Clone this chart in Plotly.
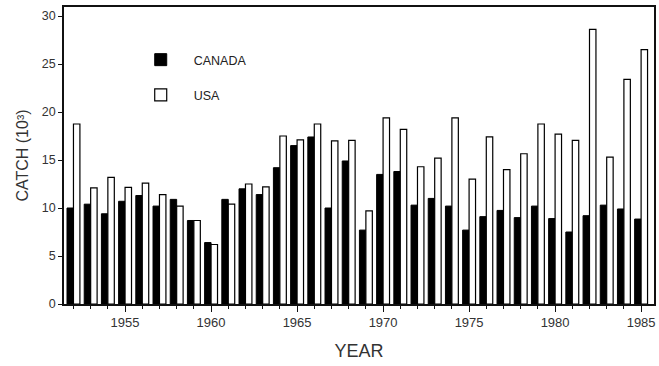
import plotly.graph_objects as go

years = list(range(1952, 1986))
canada = [10.0, 10.4, 9.4, 10.7, 11.3, 10.2, 10.9, 8.7, 6.4, 10.9,
          12.0, 11.4, 14.2, 16.5, 17.4, 10.0, 14.9, 7.7, 13.5, 13.8,
          10.3, 11.0, 10.2, 7.7, 9.1, 9.75, 9.0, 10.2, 8.9, 7.5,
          9.2, 10.3, 9.9, 8.85]
usa = [18.75, 12.1, 13.2, 12.15, 12.6, 11.4, 10.2, 8.7, 6.2, 10.4,
       12.5, 12.2, 17.5, 17.1, 18.75, 17.0, 17.05, 9.7, 19.4, 18.2,
       14.3, 15.2, 19.4, 13.0, 17.4, 14.0, 15.65, 18.75, 17.7, 17.05,
       28.6, 15.3, 23.4, 26.5]
y_ticks = [0, 5, 10, 15, 20, 25, 30]
x_ticks = [1955, 1960, 1965, 1970, 1975, 1980, 1985]

font_family = "Liberation Sans, Arial, sans-serif"
ink = "#111111"

fig = go.Figure()
fig.add_trace(go.Bar(
    x=years, y=canada, name="CANADA", legendgroup="c",
    marker=dict(color="black", line=dict(color="black", width=1)),
))
fig.add_trace(go.Bar(
    x=years, y=usa, name="USA", legendgroup="u",
    marker=dict(color="white", line=dict(color="black", width=1.2)),
))

fig.update_layout(
    width=659, height=366,
    margin=dict(l=64, r=3, t=7, b=62),
    paper_bgcolor="white", plot_bgcolor="white",
    barmode="group", bargap=0.25, bargroupgap=0,
    font=dict(family=font_family, color="#333333", size=12),
    showlegend=True,
    legend=dict(
        x=0.108, y=0.872, xanchor="left", yanchor="top",
        bgcolor="rgba(0,0,0,0)", itemwidth=56,
        traceorder="grouped", tracegroupgap=16,
        font=dict(size=12.5, color="#222222"),
    ),
    xaxis=dict(
        range=[1951.45, 1985.75],
        tickvals=x_ticks, ticktext=[str(v) for v in x_ticks],
        ticks="outside", ticklen=6, tickwidth=1, tickcolor=ink,
        minor=dict(dtick=1, tick0=1952, ticks="outside", ticklen=3, tickwidth=1, tickcolor=ink),
        showline=True, linecolor=ink, linewidth=1.5, mirror=True,
        showgrid=False, zeroline=False,
        tickfont=dict(size=13, color="#333333"),
        title=dict(text="YEAR", font=dict(size=18, color="#333333"), standoff=15),
        fixedrange=True,
    ),
    yaxis=dict(
        range=[0, 30.94],
        tickvals=y_ticks, ticktext=[str(v) for v in y_ticks],
        ticks="outside", ticklen=4, tickwidth=1, tickcolor=ink,
        showline=True, linecolor=ink, linewidth=1.5, mirror=True,
        showgrid=False, zeroline=False,
        tickfont=dict(size=12.5, color="#333333"),
        title=dict(text="CATCH (10³)", font=dict(size=16, color="#333333"), standoff=9),
        fixedrange=True,
    ),
)

fig.write_html("out.html")
